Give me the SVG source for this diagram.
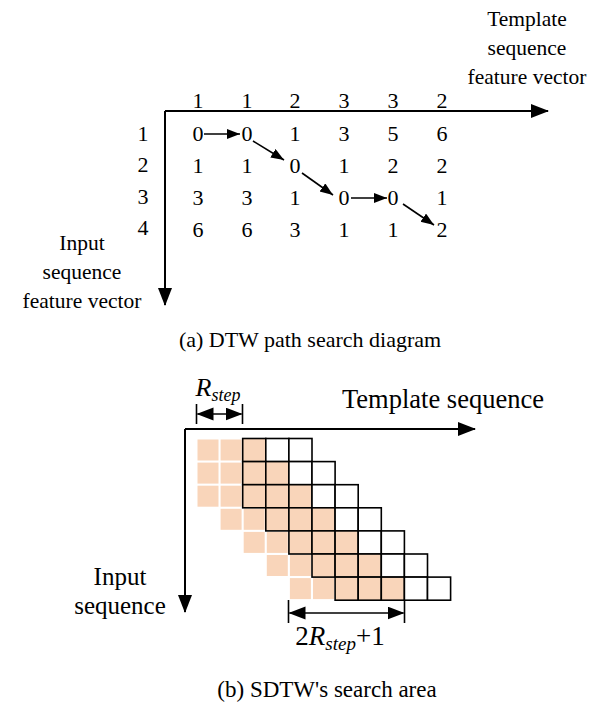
<svg xmlns="http://www.w3.org/2000/svg" width="605" height="709" viewBox="0 0 605 709" font-family="'Liberation Serif', 'Times New Roman', serif">
<defs>
<style>
text{font-family:'Liberation Serif','Times New Roman',serif;fill:#000}
.d{font-size:22px;text-anchor:middle}
.l{font-size:21.5px;text-anchor:middle}
.b{font-size:26.5px;text-anchor:middle}
.bi{font-size:25px;text-anchor:middle}
.cap{font-size:22px;text-anchor:middle}
.capb{font-size:23px;text-anchor:middle}
.ax{stroke:#000;stroke-width:2;fill:none}
.ar{stroke:#000;stroke-width:1.6;fill:none}
.pk{fill:#F9D5BA}
.bc{stroke:#000;stroke-width:1.6}
</style>
<marker id="ah" markerUnits="userSpaceOnUse" markerWidth="20" markerHeight="16" refX="17" refY="7" orient="auto"><path d="M0,0 L18,7 L0,14 z" fill="#000"/></marker>
<marker id="sh" markerUnits="userSpaceOnUse" markerWidth="14" markerHeight="12" refX="13" refY="5" orient="auto"><path d="M0,0 L13,5 L0,10 z" fill="#000"/></marker>
<marker id="dh" markerUnits="userSpaceOnUse" markerWidth="18" markerHeight="14" refX="16" refY="6.5" orient="auto-start-reverse"><path d="M0,0 L17,6.5 L0,13 z" fill="#000"/></marker>
</defs>
<rect width="605" height="709" fill="#fff"/>

<g id="part-a">
<g id="axes-a">
<path class="ax" d="M165,111 H548" marker-end="url(#ah)"/>
<path class="ax" d="M165,111 V305" marker-end="url(#ah)"/>
</g>
<g id="template-label-a">
<text class="l" x="527" y="26">Template</text>
<text class="l" x="527" y="55">sequence</text>
<text class="l" x="527" y="84">feature vector</text>
</g>
<g id="input-label-a">
<text class="l" x="82" y="250">Input</text>
<text class="l" x="82" y="279">sequence</text>
<text class="l" x="82" y="308">feature vector</text>
</g>
<g id="col-headers">
<text class="d" x="198" y="108">1</text>
<text class="d" x="247" y="108">1</text>
<text class="d" x="295" y="108">2</text>
<text class="d" x="344" y="108">3</text>
<text class="d" x="393" y="108">3</text>
<text class="d" x="442" y="108">2</text>
</g>
<g id="row-headers">
<text class="d" x="143" y="141">1</text>
<text class="d" x="143" y="172">2</text>
<text class="d" x="143" y="204">3</text>
<text class="d" x="143" y="235">4</text>
</g>
<g id="matrix">
<text class="d" x="198" y="141">0</text><text class="d" x="247" y="141">0</text><text class="d" x="295" y="141">1</text><text class="d" x="344" y="141">3</text><text class="d" x="393" y="141">5</text><text class="d" x="442" y="141">6</text>
<text class="d" x="198" y="173">1</text><text class="d" x="247" y="173">1</text><text class="d" x="295" y="173">0</text><text class="d" x="344" y="173">1</text><text class="d" x="393" y="173">2</text><text class="d" x="442" y="173">2</text>
<text class="d" x="198" y="205">3</text><text class="d" x="247" y="205">3</text><text class="d" x="295" y="205">1</text><text class="d" x="344" y="205">0</text><text class="d" x="393" y="205">0</text><text class="d" x="442" y="205">1</text>
<text class="d" x="198" y="237">6</text><text class="d" x="247" y="237">6</text><text class="d" x="295" y="237">3</text><text class="d" x="344" y="237">1</text><text class="d" x="393" y="237">1</text><text class="d" x="442" y="237">2</text>
</g>
<g id="path-arrows">
<path class="ar" d="M204,134 L240,134" marker-end="url(#sh)"/>
<path class="ar" d="M253,141 L284,160" marker-end="url(#sh)"/>
<path class="ar" d="M302,173 L333,195" marker-end="url(#sh)"/>
<path class="ar" d="M351,198 L387,198" marker-end="url(#sh)"/>
<path class="ar" d="M403,204 L434,225" marker-end="url(#sh)"/>
</g>
<text class="cap" x="310" y="347">(a) DTW path search diagram</text>
</g>

<g id="part-b">
<g id="cells-unbordered">
<rect class="pk" x="197.5" y="439.5" width="21" height="21"/><rect class="pk" x="220.6" y="439.5" width="21" height="21"/>
<rect class="pk" x="197.5" y="462.6" width="21" height="21"/><rect class="pk" x="220.6" y="462.6" width="21" height="21"/>
<rect class="pk" x="197.5" y="485.7" width="21" height="21"/><rect class="pk" x="220.6" y="485.7" width="21" height="21"/>
<rect class="pk" x="220.6" y="508.8" width="21" height="21"/><rect class="pk" x="243.7" y="508.8" width="21" height="21"/>
<rect class="pk" x="243.7" y="531.9" width="21" height="21"/><rect class="pk" x="266.8" y="531.9" width="21" height="21"/>
<rect class="pk" x="266.8" y="555" width="21" height="21"/><rect class="pk" x="289.9" y="555" width="21" height="21"/>
<rect class="pk" x="289.9" y="578.1" width="21" height="21"/><rect class="pk" x="313" y="578.1" width="21" height="21"/>
</g>
<g id="cells-bordered" class="bc">
<rect x="242.7" y="438.5" width="23.1" height="23.1" fill="#F9D5BA"/><rect x="265.8" y="438.5" width="23.1" height="23.1" fill="#fff"/><rect x="288.9" y="438.5" width="23.1" height="23.1" fill="#fff"/>
<rect x="242.7" y="461.6" width="23.1" height="23.1" fill="#F9D5BA"/><rect x="265.8" y="461.6" width="23.1" height="23.1" fill="#F9D5BA"/><rect x="288.9" y="461.6" width="23.1" height="23.1" fill="#fff"/><rect x="312" y="461.6" width="23.1" height="23.1" fill="#fff"/>
<rect x="242.7" y="484.7" width="23.1" height="23.1" fill="#F9D5BA"/><rect x="265.8" y="484.7" width="23.1" height="23.1" fill="#F9D5BA"/><rect x="288.9" y="484.7" width="23.1" height="23.1" fill="#F9D5BA"/><rect x="312" y="484.7" width="23.1" height="23.1" fill="#fff"/><rect x="335.1" y="484.7" width="23.1" height="23.1" fill="#fff"/>
<rect x="265.8" y="507.8" width="23.1" height="23.1" fill="#F9D5BA"/><rect x="288.9" y="507.8" width="23.1" height="23.1" fill="#F9D5BA"/><rect x="312" y="507.8" width="23.1" height="23.1" fill="#F9D5BA"/><rect x="335.1" y="507.8" width="23.1" height="23.1" fill="#fff"/><rect x="358.2" y="507.8" width="23.1" height="23.1" fill="#fff"/>
<rect x="288.9" y="530.9" width="23.1" height="23.1" fill="#F9D5BA"/><rect x="312" y="530.9" width="23.1" height="23.1" fill="#F9D5BA"/><rect x="335.1" y="530.9" width="23.1" height="23.1" fill="#F9D5BA"/><rect x="358.2" y="530.9" width="23.1" height="23.1" fill="#fff"/><rect x="381.3" y="530.9" width="23.1" height="23.1" fill="#fff"/>
<rect x="312" y="554" width="23.1" height="23.1" fill="#F9D5BA"/><rect x="335.1" y="554" width="23.1" height="23.1" fill="#F9D5BA"/><rect x="358.2" y="554" width="23.1" height="23.1" fill="#F9D5BA"/><rect x="381.3" y="554" width="23.1" height="23.1" fill="#fff"/><rect x="404.4" y="554" width="23.1" height="23.1" fill="#fff"/>
<rect x="335.1" y="577.1" width="23.1" height="23.1" fill="#F9D5BA"/><rect x="358.2" y="577.1" width="23.1" height="23.1" fill="#F9D5BA"/><rect x="381.3" y="577.1" width="23.1" height="23.1" fill="#F9D5BA"/><rect x="404.4" y="577.1" width="23.1" height="23.1" fill="#fff"/><rect x="427.5" y="577.1" width="23.1" height="23.1" fill="#fff"/>
</g>
<g id="axes-b">
<path class="ax" d="M185,429 H475" marker-end="url(#ah)"/>
<path class="ax" d="M185,429 V612" marker-end="url(#ah)"/>
</g>
<g id="rstep-dim">
<path class="ar" d="M196.5,404 V424 M242.5,404 V424"/>
<path class="ar" d="M197.5,414 H241.5" marker-start="url(#dh)" marker-end="url(#dh)"/>
<text x="218" y="396" text-anchor="middle" font-size="26px"><tspan font-style="italic">R</tspan><tspan font-style="italic" font-size="18px" dy="5">step</tspan></text>
</g>
<g id="width-dim">
<path class="ar" d="M288.5,600 V623 M404.5,600 V623"/>
<path class="ar" d="M289.5,613 H403.5" marker-start="url(#dh)" marker-end="url(#dh)"/>
<text x="340" y="645" text-anchor="middle" font-size="27px">2<tspan font-style="italic">R</tspan><tspan font-style="italic" font-size="19px" dy="5">step</tspan><tspan dy="-5">+1</tspan></text>
</g>
<text class="b" x="443" y="408">Template sequence</text>
<g id="input-label-b">
<text class="bi" x="120" y="585">Input</text>
<text class="bi" x="120" y="614">sequence</text>
</g>
<text class="capb" x="327" y="697">(b) SDTW's search area</text>
</g>
</svg>
